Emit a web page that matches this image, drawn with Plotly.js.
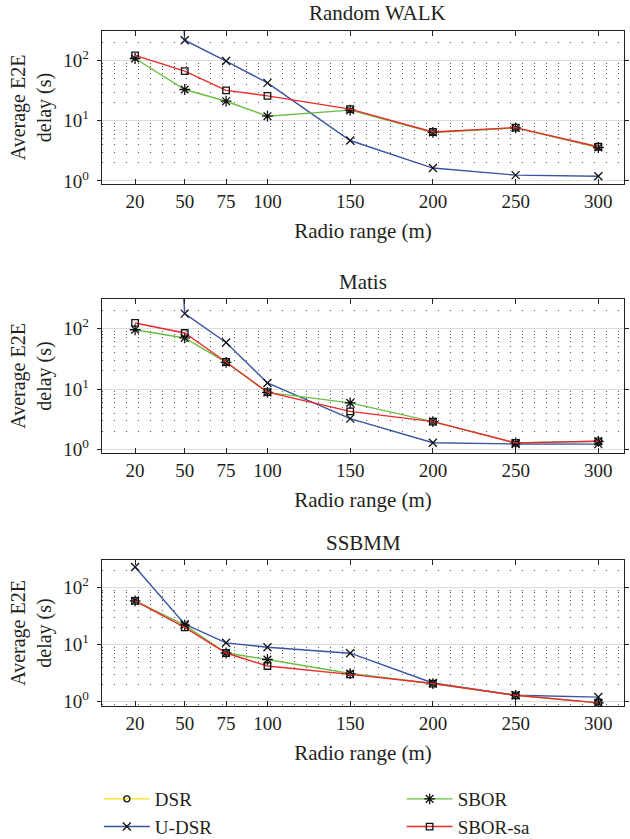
<!DOCTYPE html>
<html><head><meta charset="utf-8">
<script src="https://cdn.plot.ly/plotly-3.0.1.min.js"></script>
<style>html,body{margin:0;padding:0;background:#fff}</style>
</head><body><div id="chart" style="width:630px;height:839px"></div>
<script>
// ---- data ----
const radioRange = [20, 50, 75, 100, 150, 200, 250, 300];
const xTickLabels = ['20', '50', '75', '100', '150', '200', '250', '300'];
const yTickVals = [1, 10, 100];
const yTickLabels = ['10<sup>0</sup>', '10<sup>1</sup>', '10<sup>2</sup>'];
const seriesNames = ['DSR', 'U-DSR', 'SBOR', 'SBOR-sa'];
const panelTitles = ['Random WALK', 'Matis', 'SSBMM'];

// DSR has no visible points in any panel
const dsrValues = [null, null, null, null, null, null, null, null];

// Random WALK
const rwUDSR   = [1e15, 217, 98, 42.5, 4.7, 1.64, 1.25, 1.2];
const rwSBOR   = [108, 33, 21.1, 11.9, 15.0, 6.4, 7.6, 3.6];
const rwSBORsa = [122, 66.5, 32, 25.9, 15.6, 6.5, 7.7, 3.7];
// Matis
const maUDSR   = [1e15, 175, 58.7, 12.6, 3.24, 1.30, 1.24, 1.23];
const maSBOR   = [95, 69.5, 27.5, 8.8, 5.9, 2.9, 1.29, 1.37];
const maSBORsa = [123, 84, 27.9, 8.9, 4.27, 2.89, 1.29, 1.37];
// SSBMM
const ssUDSR   = [227, 22.7, 10.7, 8.97, 7.04, 2.12, 1.29, 1.2];
const ssSBOR   = [58, 21.8, 7.1, 5.46, 3.1, 2.07, 1.29, 0.95];
const ssSBORsa = [58, 19.9, 7.1, 4.2, 3.0, 2.07, 1.29, 0.95];

const panels = [
  {dsr: dsrValues, udsr: rwUDSR, sbor: rwSBOR, sborsa: rwSBORsa},
  {dsr: dsrValues, udsr: maUDSR, sbor: maSBOR, sborsa: maSBORsa},
  {dsr: dsrValues, udsr: ssUDSR, sbor: ssSBOR, sborsa: ssSBORsa}
];

// ---- styles ----
const FONT = 'Liberation Serif, Times New Roman, serif';
const TXT = '#231f20';
const styles = {
  dsr:    {color: '#f2e11d', symbol: 'circle-open', size: 6, legend: 'legend'},
  udsr:   {color: '#3a54a4', symbol: 'x-thin-open', size: 8, legend: 'legend'},
  sbor:   {color: '#6cbf45', symbol: 'asterisk-open', size: 9, legend: 'legend2'},
  sborsa: {color: '#ec2a2a', symbol: 'square-open', size: 6.5, legend: 'legend2'}
};
const keys = ['dsr', 'udsr', 'sbor', 'sborsa'];

const traces = [];
panels.forEach((p, i) => {
  const sfx = i === 0 ? '' : String(i + 1);
  keys.forEach((k, j) => {
    const s = styles[k];
    traces.push({
      type: 'scatter', mode: 'lines+markers',
      x: radioRange, y: p[k], name: seriesNames[j],
      xaxis: 'x' + sfx, yaxis: 'y' + sfx,
      showlegend: i === 0, legend: s.legend,
      line: {color: s.color, width: 1.4},
      marker: {symbol: s.symbol, size: s.size, color: '#111',
               line: {color: '#111', width: 1.3}},
      connectgaps: false
    });
  });
});

const PLOT_TOP = 31, PLOT_BOT = 706, H = PLOT_BOT - PLOT_TOP;
const frac = px => (PLOT_BOT - px) / H;
const domains = [[frac(184), frac(31)], [frac(453), frac(299)], [frac(706), frac(560)]];
const yRanges = [[-0.05, 2.49], [-0.056, 2.485], [-0.077, 2.48]];

const legendFont = {family: FONT, size: 19, color: TXT};
const layout = {
  width: 630, height: 839,
  margin: {l: 102, r: 6, t: PLOT_TOP, b: 839 - PLOT_BOT, autoexpand: false},
  paper_bgcolor: '#fff', plot_bgcolor: '#fff',
  font: {family: FONT, size: 19, color: TXT},
  showlegend: true,
  legend: {x: -0.006, xanchor: 'left', y: frac(780), yanchor: 'top',
           orientation: 'v', tracegroupgap: 0, bgcolor: 'rgba(0,0,0,0)',
           font: legendFont, itemwidth: 46},
  legend2: {x: 0.574, xanchor: 'left', y: frac(780), yanchor: 'top',
            orientation: 'v', tracegroupgap: 0, bgcolor: 'rgba(0,0,0,0)',
            font: legendFont, itemwidth: 46},
  annotations: [],
  hovermode: false
};

const titleY = [13, 282, 543];
const titleX = [0.527, 0.5, 0.5];
for (let i = 0; i < 3; i++) {
  const sfx = i === 0 ? '' : String(i + 1);
  layout['xaxis' + sfx] = {
    anchor: 'y' + sfx, domain: [0, 1], range: [0, 315.5],
    tickmode: 'array', tickvals: radioRange, ticktext: xTickLabels,
    ticks: 'inside', ticklen: 5, tickwidth: 1, tickcolor: '#222',
    showline: true, linecolor: '#222', linewidth: 1.3, mirror: 'ticks',
    showgrid: false, zeroline: false,
    tickfont: {family: FONT, size: 19, color: TXT},
    title: {text: 'Radio range (m)', font: {family: FONT, size: 21, color: TXT}, standoff: 12}
  };
  layout['yaxis' + sfx] = {
    anchor: 'x' + sfx, domain: domains[i], type: 'log', range: yRanges[i],
    tickmode: 'array', tickvals: yTickVals, ticktext: yTickLabels,
    ticks: 'outside', ticklen: 4, tickwidth: 1, tickcolor: '#222',
    ticklabelstandoff: 4,
    showline: true, linecolor: '#222', linewidth: 1.3, mirror: 'ticks',
    showgrid: true, gridcolor: '#dcdcdc', gridwidth: 1, zeroline: false,
    minor: {dtick: 'D1', showgrid: true, gridcolor: '#555', gridwidth: 1,
            griddash: '1px,11px', ticks: ''},
    tickfont: {family: FONT, size: 19, color: TXT},
    title: {text: 'Average E2E<br>delay (s)', font: {family: FONT, size: 20, color: TXT}, standoff: 6}
  };
  layout.annotations.push({
    xref: 'paper', yref: 'paper', x: titleX[i], y: frac(titleY[i]),
    xanchor: 'center', yanchor: 'middle', showarrow: false,
    text: panelTitles[i], font: {family: FONT, size: 21, color: TXT}
  });
}

Plotly.newPlot('chart', traces, layout, {displayModeBar: false, staticPlot: true});
</script>
</body></html>
